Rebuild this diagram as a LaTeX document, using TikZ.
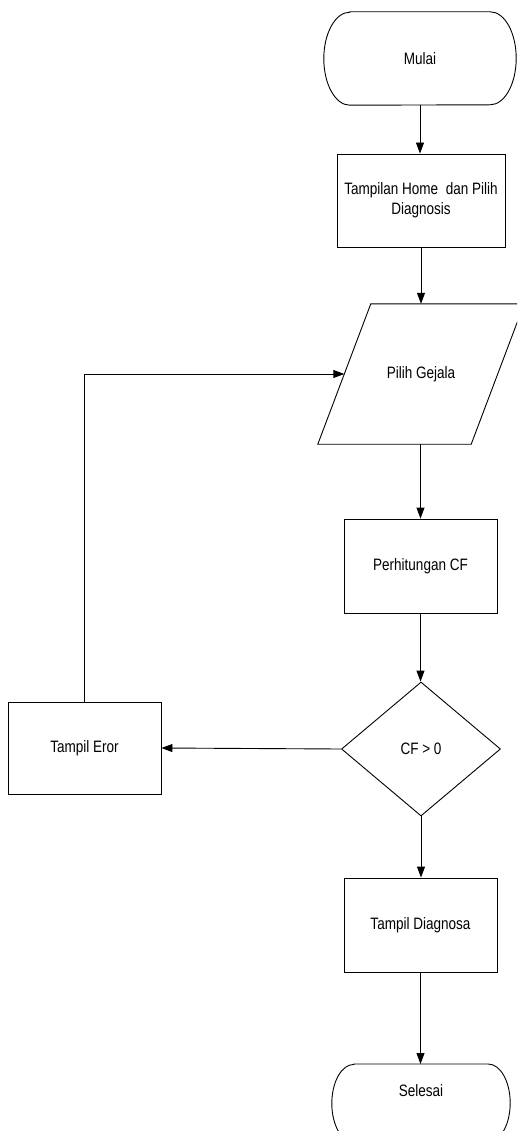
\documentclass[tikz,border=0pt]{standalone}
\usepackage{fontspec}
\setmainfont{Liberation Sans}[FakeStretch=0.82]
\usetikzlibrary{arrows.meta,shapes.geometric}
\tikzset{
  x=1pt,y=-1pt,
  base/.style={font=\fontsize{16.5pt}{20pt}\selectfont, inner sep=0pt, align=center},
  procbox/.style={base, draw, line width=0.9pt},
  hidden/.style={base, draw=none},
  decision/.style={base, draw, diamond, aspect=1, line width=0.9pt},
  conn/.style={line width=0.9pt, -{Triangle[length=11pt,width=8pt]}},
  plain/.style={line width=0.9pt},
}
\begin{document}
\begin{tikzpicture}
\useasboundingbox (0,0) rectangle (517,1131);
\clip (0,0) rectangle (517,1131);
\fill[white] (0,0) rectangle (517,1131);

% Mulai (terminal)
\node[hidden, minimum width=192pt, minimum height=93pt] (m) at (420,58.5) {Mulai};
\draw[plain] ([xshift=26pt]m.north west) -- ([xshift=-26pt]m.north east)
  arc[start angle=90, end angle=-90, x radius=26pt, y radius=46.5pt]
  -- ([xshift=26pt]m.south west)
  arc[start angle=270, end angle=90, x radius=26pt, y radius=46.5pt] -- cycle;

% Tampilan Home
\node[procbox, minimum width=168pt, minimum height=93pt] (b1) at (421,200.5) {Tampilan Home~ dan Pilih\\Diagnosis};

% Pilih Gejala (parallelogram)
\node[hidden, minimum width=206pt, minimum height=140pt] (pg) at (421,374) {Pilih Gejala};
\draw[plain] ([xshift=53pt]pg.north west) -- (pg.north east)
  -- ([xshift=-53pt]pg.south east) -- (pg.south west) -- cycle;
\coordinate (pgL) at ([xshift=26.5pt]pg.west);

% Perhitungan CF
\node[procbox, minimum width=153pt, minimum height=94pt] (pc) at (420.5,566) {Perhitungan CF};

% CF > 0
\node[decision, minimum width=159pt, minimum height=134pt] (d) at (421,749) {CF {>} 0};

% Tampil Eror
\node[procbox, minimum width=153pt, minimum height=92pt] (te) at (84.5,748) {Tampil Eror};

% Tampil Diagnosa
\node[procbox, minimum width=153pt, minimum height=94pt] (td) at (420.5,925) {Tampil Diagnosa};

% Selesai (terminal, clipped at bottom)
\node[hidden, anchor=north, minimum width=178pt, minimum height=78pt, text height=12pt, text depth=26pt] (s) at (421,1064) {Selesai};
\draw[plain] ([xshift=22pt]s.north west) -- ([xshift=-22pt]s.north east)
  arc[start angle=90, end angle=-90, x radius=22pt, y radius=39pt]
  -- ([xshift=22pt]s.south west)
  arc[start angle=270, end angle=90, x radius=22pt, y radius=39pt] -- cycle;

% connectors
\draw[conn] (m.south) -- (m.south |- b1.north);
\draw[conn] (b1.south) -- (b1.south |- pg.north);
\draw[conn] (pc.north |- pg.south) -- (pc.north);
\draw[conn] (pc.south) -- (pc.south |- d.north);
\draw[conn] (d.west) -- (te.east);
\draw[conn] (te.north) |- (pgL);
\draw[conn] (d.south) -- (d.south |- td.north);
\draw[conn] (td.south) -- (td.south |- s.north);
\end{tikzpicture}
\end{document}
